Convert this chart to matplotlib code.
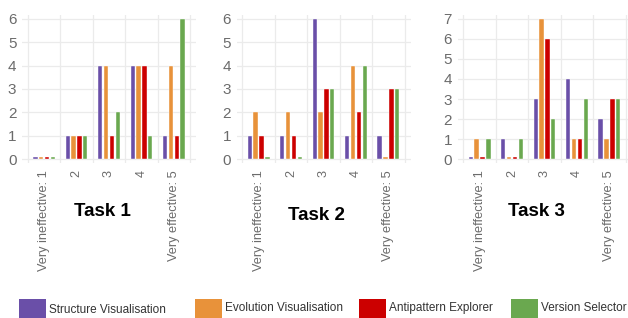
import numpy as np
import matplotlib
matplotlib.use("Agg")
import matplotlib.pyplot as plt
from matplotlib.patches import Rectangle

# ratings on the x axis
ratings = ["Very ineffective: 1", "2", "3", "4", "Very effective: 5"]
tools = ["Structure Visualisation", "Evolution Visualisation",
         "Antipattern Explorer", "Version Selector"]
colors = ["#6a4fa8", "#e8923a", "#cc0000", "#6aa84f"]

# counts per task, one list per tool (in order of ratings)
task1_structure = [0, 1, 4, 4, 1]
task1_evolution = [0, 1, 4, 4, 4]
task1_antipattern = [0, 1, 1, 4, 1]
task1_version = [0, 1, 2, 1, 6]

task2_structure = [1, 1, 6, 1, 1]
task2_evolution = [2, 2, 2, 4, 0]
task2_antipattern = [1, 1, 3, 2, 3]
task2_version = [0, 0, 3, 4, 3]

task3_structure = [0, 1, 3, 4, 2]
task3_evolution = [1, 0, 7, 1, 1]
task3_antipattern = [0, 0, 6, 1, 3]
task3_version = [1, 1, 2, 3, 3]

tasks = ["Task 1", "Task 2", "Task 3"]
task_data = [
    [task1_structure, task1_evolution, task1_antipattern, task1_version],
    [task2_structure, task2_evolution, task2_antipattern, task2_version],
    [task3_structure, task3_evolution, task3_antipattern, task3_version],
]
y_max = [6, 6, 7]

plt.rcParams["font.family"] = ["Liberation Sans", "DejaVu Sans"]

fig = plt.figure(figsize=(6.28, 3.18), dpi=100)
W, H = 628, 318

# axes left edges in pixels
lefts = [22, 236.5, 457.5]
ax_w = 174
ax_top, ax_bottom = 15, 163
title_pos = [(102, 211), (316, 216), (536, 211)]

x = np.arange(len(ratings))
offsets = [-0.27, -0.09, 0.09, 0.27]

for i, ax_left in enumerate(lefts):
    ax = fig.add_axes([ax_left / W, 1 - ax_bottom / H, ax_w / W, (ax_bottom - ax_top) / H])
    for j, vals in enumerate(task_data[i]):
        # zero counts show as a small stub
        shown = np.maximum(np.array(vals, dtype=float), 0.1 * y_max[i] / 6)
        ax.bar(x + offsets[j], shown, width=0.135, color=colors[j],
               edgecolor="white", linewidth=0.3, zorder=3)

    pad = y_max[i] * 0.028
    ax.set_ylim(-pad, y_max[i] + pad)
    ax.set_xlim(-0.68, 4.68)
    ax.set_yticks(range(y_max[i] + 1))
    ax.set_xticks(x)
    ax.set_xticklabels(ratings, rotation=90, va="top", ha="center")
    ax.set_xticks(np.arange(-0.5, 5, 1), minor=True)
    ax.tick_params(axis="both", which="both", length=0, labelsize=9.2,
                   labelcolor="#6b6b6b")
    ax.tick_params(axis="x", pad=5)
    ax.tick_params(axis="y", pad=4, labelsize=11)
    ax.grid(True, axis="y", color="#ebebeb", linewidth=0.9, zorder=0)
    ax.grid(True, axis="x", which="minor", color="#ebebeb", linewidth=0.9, zorder=0)
    for s in ax.spines.values():
        s.set_visible(False)

    tx, ty = title_pos[i]
    fig.text(tx / W, 1 - ty / H, tasks[i], ha="center", va="center",
             fontsize=13.5, fontweight="bold", color="black")

# legend along the bottom
leg_x = [19, 195, 359, 511]
for k, name in enumerate(tools):
    fig.patches.append(Rectangle((leg_x[k] / W, 0), 27 / W, 19 / H,
                                 transform=fig.transFigure, facecolor=colors[k],
                                 edgecolor="none"))
    fig.text((leg_x[k] + 30) / W, 1 - (310 if k == 0 else 308) / H, name,
             ha="left", va="center", fontsize=8.5, color="#333333")

fig.savefig("out.png", dpi=100)
